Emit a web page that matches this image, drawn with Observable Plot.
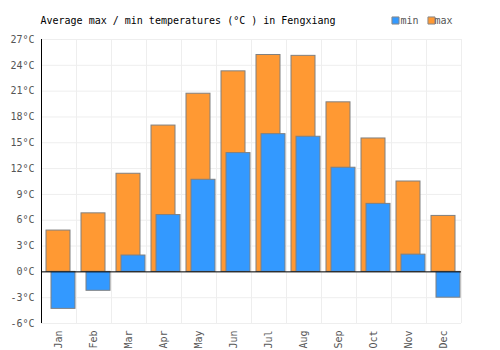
<!DOCTYPE html>
<html>
<head>
<meta charset="utf-8">
<script src="https://cdn.jsdelivr.net/npm/d3@7"></script>
<script src="https://cdn.jsdelivr.net/npm/@observablehq/plot@0.6"></script>
<style>
body { margin: 0; background: #fff; }
</style>
</head>
<body>
<div id="chart"></div>
<script>
const months = ["Jan","Feb","Mar","Apr","May","Jun","Jul","Aug","Sep","Oct","Nov","Dec"];
const maxTemps = [4.8, 6.8, 11.4, 17.0, 20.7, 23.3, 25.2, 25.1, 19.7, 15.5, 10.5, 6.5];
const minTemps = [-4.3, -2.2, 1.9, 6.6, 10.7, 13.8, 16.0, 15.7, 12.1, 7.9, 2.0, -3.0];
const yTicks = [-6, -3, 0, 3, 6, 9, 12, 15, 18, 21, 24, 27];
const title = "Average max / min temperatures (°C ) in Fengxiang";
const seriesNames = ["min", "max"];
const seriesColors = ["#3399ff", "#ff9933"];

const maxData = months.map((m, i) => ({month: m, value: maxTemps[i]}));
const minData = months.map((m, i) => ({month: m, value: minTemps[i]}));

const font = "'DejaVu Sans Mono', monospace";

const chart = Plot.plot({
  width: 500,
  height: 350,
  marginTop: 39,
  marginBottom: 27,
  marginLeft: 41,
  marginRight: 39,
  style: {fontFamily: font, fontSize: "10px", background: "#fff", overflow: "visible"},
  x: {domain: months, padding: 0, label: null},
  y: {domain: [-6, 27], label: null},
  marks: [
    Plot.gridY(yTicks, {stroke: "#eeeeee", strokeOpacity: 1, strokeWidth: 1}),
    Plot.ruleX(months, {x: d => d, dx: 17.5, y1: -6, y2: 27, stroke: "#eeeeee", strokeWidth: 1}),
    Plot.barY(maxData, {x: "month", y: "value", fill: seriesColors[1], stroke: "#808080", strokeWidth: 1, insetLeft: 5, insetRight: 6}),
    Plot.barY(minData, {x: "month", y: "value", fill: seriesColors[0], stroke: "#808080", strokeWidth: 1, insetLeft: 10, insetRight: 1}),
    Plot.ruleY([0], {stroke: "#000", strokeWidth: 1}),
    Plot.ruleX([months[0]], {x: d => d, dx: -17.5, y1: -6, y2: 27, stroke: "#000", strokeWidth: 1}),
    Plot.axisY(yTicks, {tickFormat: d => d + "°C", tickSize: 0, tickPadding: 7, fill: "#555", fontSize: 10}),
    Plot.axisX({tickRotate: -90, tickSize: 0, tickPadding: 7, fill: "#555", fontSize: 10}),
    Plot.text([title], {frameAnchor: "top-left", dx: -1, dy: -19, lineAnchor: "middle", text: d => d, fill: "#000", fontSize: 10, textAnchor: "start"}),
    Plot.dot([0], {frameAnchor: "top-right", dx: -66, dy: -19, symbol: "square", r: 4, fill: seriesColors[0], stroke: "#888", strokeWidth: 1}),
    Plot.text([seriesNames[0]], {frameAnchor: "top-right", dx: -43, dy: -19, lineAnchor: "middle", text: d => d, fill: "#555", fontSize: 10, textAnchor: "end"}),
    Plot.dot([0], {frameAnchor: "top-right", dx: -30, dy: -19, symbol: "square", r: 4, fill: seriesColors[1], stroke: "#888", strokeWidth: 1}),
    Plot.text([seriesNames[1]], {frameAnchor: "top-right", dx: -9, dy: -19, lineAnchor: "middle", text: d => d, fill: "#555", fontSize: 10, textAnchor: "end"})
  ]
});
document.getElementById("chart").appendChild(chart);
</script>
</body>
</html>
